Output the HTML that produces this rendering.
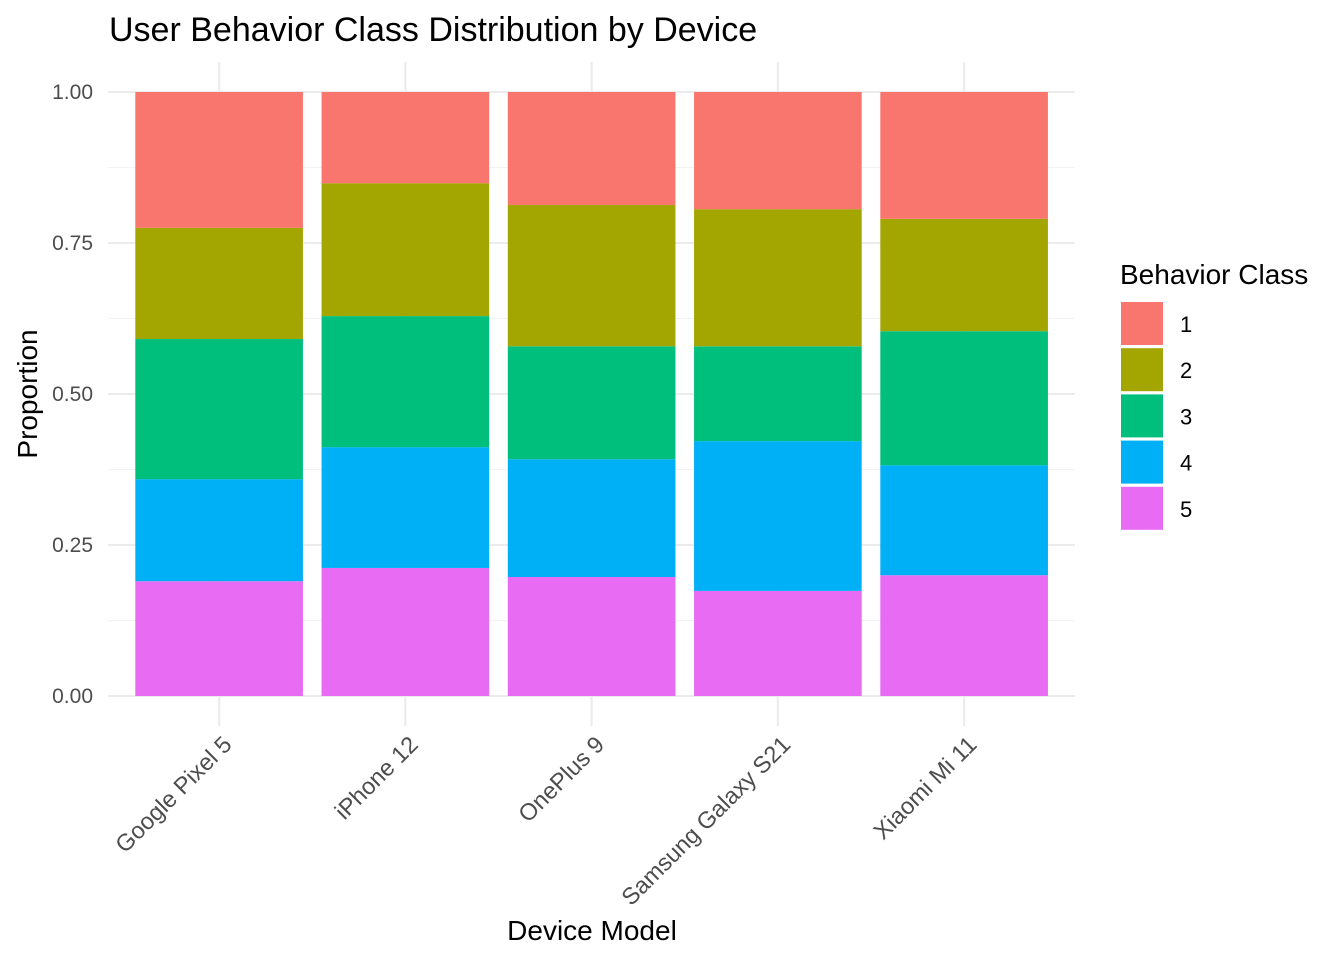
<!DOCTYPE html>
<html><head><meta charset="utf-8"><style>
body{margin:0;background:#fff;}
svg{display:block;font-family:"Liberation Sans",Arial,sans-serif;}
</style></head><body>
<svg id="chart" width="1344" height="960">
<text x="109" y="41" font-size="34" fill="#000">User Behavior Class Distribution by Device</text>
<g id="grid"></g><g id="bars"></g><g id="axes"></g><g id="legend"></g>
<text x="592" y="940" font-size="28" text-anchor="middle" fill="#000">Device Model</text>
<text transform="translate(37,394) rotate(-90)" font-size="28" text-anchor="middle" fill="#000">Proportion</text>
</svg>
<script>
const devices = ["Google Pixel 5","iPhone 12","OnePlus 9","Samsung Galaxy S21","Xiaomi Mi 11"];
const classes = ["1","2","3","4","5"];
const class1 = [0.225,0.151,0.187,0.194,0.210];
const class2 = [0.184,0.220,0.234,0.227,0.186];
const class3 = [0.232,0.217,0.187,0.157,0.222];
const class4 = [0.169,0.200,0.195,0.248,0.182];
const class5 = [0.190,0.212,0.197,0.174,0.200];
const yTicks = [0,0.25,0.5,0.75,1];
const yTickLabels = ["0.00","0.25","0.50","0.75","1.00"];
const colors = ["#F8766D","#A3A500","#00BF7D","#00B0F6","#E76BF3"];

const NS="http://www.w3.org/2000/svg";
const px0=108, px1=1075, py0=62, py1=726;
const y=v=>696-v*604;
const step=186.25;
const xc=i=>126+step*(i+0.5);
const bw=step*0.9;
function mk(tag,attrs,parent){const e=document.createElementNS(NS,tag);for(const k in attrs)e.setAttribute(k,attrs[k]);parent.appendChild(e);return e;}
const grid=document.getElementById('grid'),bars=document.getElementById('bars'),axes=document.getElementById('axes'),legend=document.getElementById('legend');
for(let i=0;i<yTicks.length-1;i++){const m=(yTicks[i]+yTicks[i+1])/2;
 const l=mk('line',{x1:px0,x2:px1,y1:y(m),y2:y(m),stroke:'#f2f2f2','stroke-width':1},grid);
 
 }
yTicks.forEach((t,i)=>{const l=mk('line',{x1:px0,x2:px1,y1:y(t),y2:y(t),stroke:'#ebebeb','stroke-width':2},grid);
 
 
 const tx=mk('text',{x:93,y:y(t)+7,'font-size':21,fill:'#4d4d4d','text-anchor':'end'},axes);tx.textContent=yTickLabels[i];
 
 });
devices.forEach((d,i)=>{const l=mk('line',{x1:xc(i),x2:xc(i),y1:py0,y2:py1,stroke:'#ebebeb','stroke-width':2},grid);
 
 
 const tx=mk('text',{transform:`translate(${xc(i)+14},${746}) rotate(-45)`,'font-size':23.5,fill:'#4d4d4d','text-anchor':'end'},axes);tx.textContent=d;
 
 });
const series=[class5,class4,class3,class2,class1];
const sIdx=[4,3,2,1,0];
devices.forEach((d,i)=>{let cum=0;series.forEach((s,k)=>{const v=s[i];
 const r=mk('rect',{x:xc(i)-bw/2,y:y(cum+v),width:bw,height:y(cum)-y(cum+v),fill:colors[sIdx[k]]},bars);
 
 
 cum+=v;});});
const lt=mk('text',{x:1120,y:284,'font-size':28,fill:'#000'},legend);lt.textContent='Behavior Class';


classes.forEach((c,i)=>{const yy=302+i*46.2;
 const r=mk('rect',{x:1121,y:yy,width:42,height:43,fill:colors[i]},legend);
 
 
 const t=mk('text',{x:1180,y:yy+30,'font-size':22,fill:'#000'},legend);t.textContent=c;
 
 });
</script>
</body></html>
